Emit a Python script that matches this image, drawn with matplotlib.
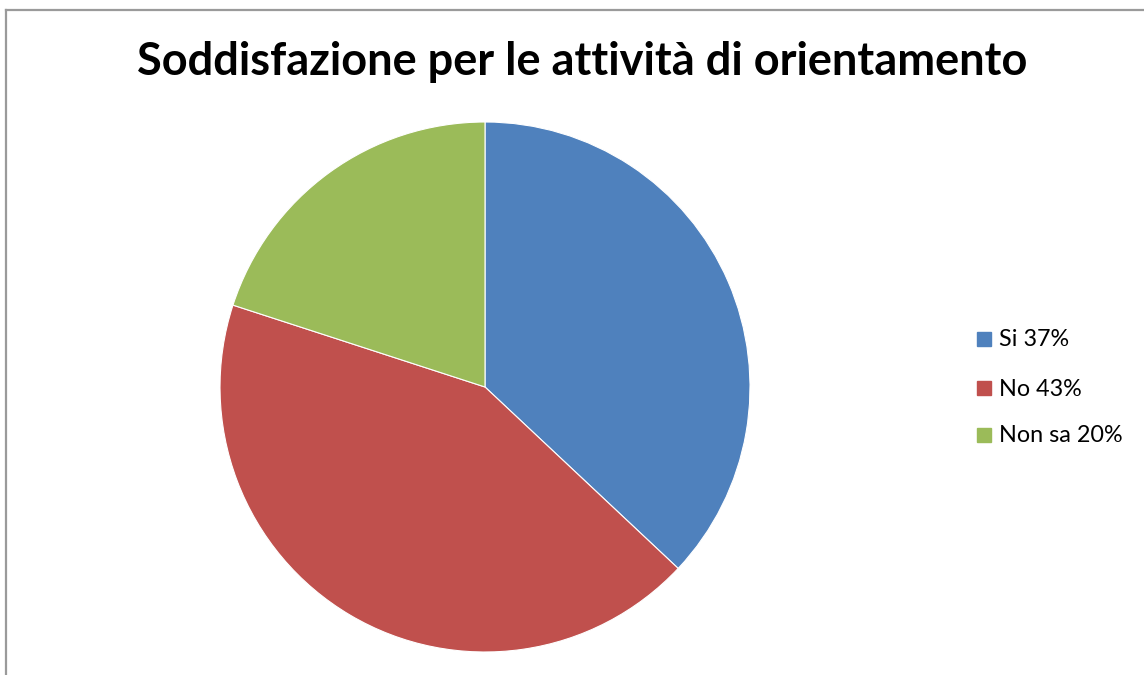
import matplotlib
matplotlib.use("Agg")
import matplotlib.pyplot as plt
from matplotlib.lines import Line2D

labels = ["Si 37%", "No 43%", "Non sa 20%"]
values = [37, 43, 20]
colors = ["#4F81BD", "#C0504D", "#9BBB59"]
title = "Soddisfazione per le attività di orientamento"

W, H = 1144, 675
fig = plt.figure(figsize=(W / 100, H / 100), dpi=100)
fig.patch.set_facecolor("white")

# frame lines (chart border, open on right/bottom)
fig.add_artist(Line2D([6 / W, 6 / W], [0, 1 - 10 / H], transform=fig.transFigure,
                      color="#9a9a9a", lw=1.6))
fig.add_artist(Line2D([6 / W, 1], [1 - 10 / H, 1 - 10 / H], transform=fig.transFigure,
                      color="#9a9a9a", lw=1.6))

cx, cy, r = 485, 675 - 387, 265
ax = fig.add_axes([(cx - r) / W, (cy - r) / H, 2 * r / W, 2 * r / H])
ax.pie(values, colors=colors, startangle=90, counterclock=False,
       wedgeprops=dict(edgecolor="white", linewidth=0.8))
ax.set_xlim(-1, 1)
ax.set_ylim(-1, 1)
ax.set_aspect("equal")
ax.axis("off")

fig.text(582 / W, 1 - 62 / H, title, ha="center", va="center",
         fontsize=32.5, fontweight="bold", family="Lato")

for i, (lab, col) in enumerate(zip(labels, colors)):
    y = [339, 388, 435][i]
    fig.patches.append(plt.Rectangle((977 / W, 1 - (y + 7) / H), 14 / W, 14 / H,
                                     transform=fig.transFigure, color=col, figure=fig))
    fig.text(999 / W, 1 - (y + 1) / H, lab, ha="left", va="center", fontsize=16.8, family="Lato")

fig.savefig("out.png", dpi=100)
